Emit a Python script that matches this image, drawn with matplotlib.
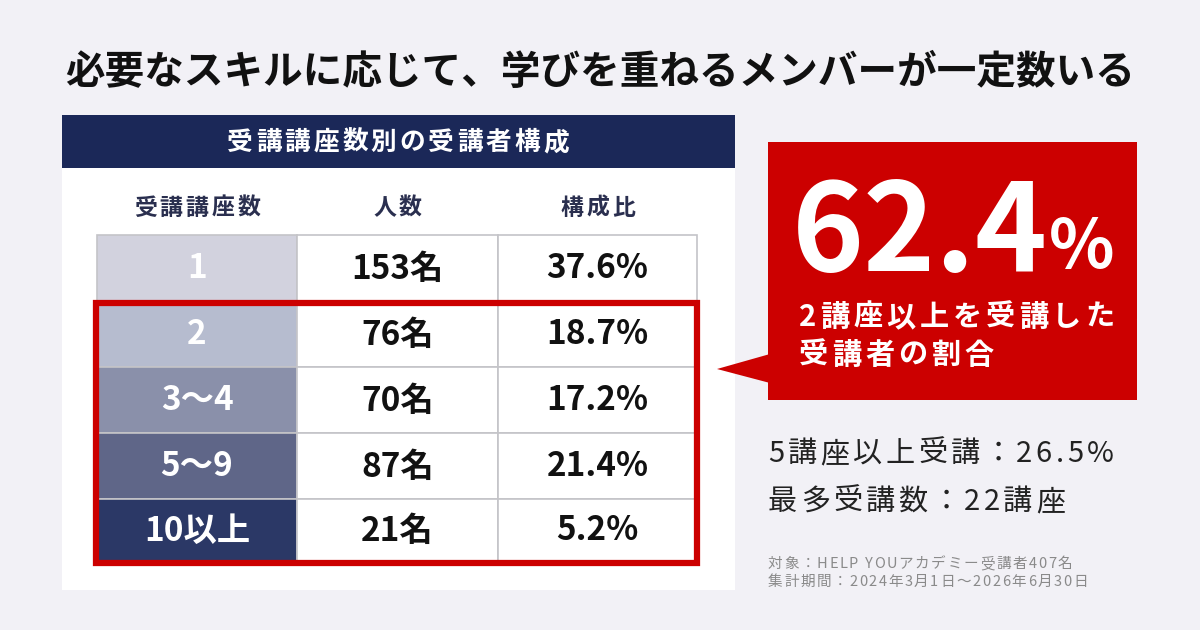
import matplotlib.pyplot as plt
from matplotlib.patches import Rectangle, Polygon

plt.rcParams['font.family'] = ['Noto Sans CJK JP', 'DejaVu Sans']

# data
title = "必要なスキルに応じて、学びを重ねるメンバーが一定数いる"
table_title = "受講講座数別の受講者構成"
col_headers = ["受講講座数", "人数", "構成比"]
course_counts = ["1", "2", "3〜4", "5〜9", "10以上"]
members = [153, 76, 70, 87, 21]
shares = [37.6, 18.7, 17.2, 21.4, 5.2]
highlight_share = 62.4
highlight_label = ["2講座以上を受講した", "受講者の割合"]
notes = ["5講座以上受講：26.5%", "最多受講数：22講座"]
footnotes = ["対象：HELP YOUアカデミー受講者407名",
             "集計期間：2024年3月1日〜2026年6月30日"]

# styles
bg = "#f2f1f6"
navy = "#1b2858"
red = "#cc0000"
grid = "#c4c4c8"
row_colors = ["#d2d2de", "#b6bccf", "#8a90aa", "#5f6688", "#2b3866"]

fig = plt.figure(figsize=(12, 6.3), dpi=100, facecolor=bg)
ax = fig.add_axes([0, 0, 1, 1])
ax.set_xlim(0, 1200)
ax.set_ylim(630, 0)
ax.axis("off")
renderer = fig.canvas.get_renderer()


def spaced(x, y, s, track, center=False, **kw):
    # draw a string char by char with extra letter spacing (pixels)
    widths = []
    for ch in s:
        t = ax.text(0, 0, ch, **kw)
        widths.append(t.get_window_extent(renderer).width)
        t.remove()
    if center:
        x -= (sum(widths) + track * (len(s) - 1)) / 2
    for ch, w in zip(s, widths):
        ax.text(x, y, ch, ha="left", va="baseline", **kw)
        x += w + track
    return x


ax.text(600, 72, title, ha="center", va="center", fontsize=28.5,
        fontweight="bold", color="#111111")

# card + header bar
ax.add_patch(Rectangle((62, 115), 673, 475, facecolor="white", edgecolor="none"))
ax.add_patch(Rectangle((62, 115), 673, 53, facecolor=navy, edgecolor="none"))
spaced(398, 150, table_title, 3, center=True, fontsize=18.5,
       fontweight="bold", color="white")

col_x = [97, 297, 498, 697]
row_y = [235, 301, 367, 433, 499, 561]
for i, h in enumerate(col_headers):
    spaced((col_x[i] + col_x[i + 1]) / 2, 215, h, 3, center=True,
           fontsize=16.5, fontweight="bold", color="#2a2f4f")

for r in range(len(course_counts)):
    y0, y1 = row_y[r], row_y[r + 1]
    ax.add_patch(Rectangle((col_x[0], y0), col_x[1] - col_x[0], y1 - y0,
                           facecolor=row_colors[r], edgecolor=grid, lw=1.2))
    for c in (1, 2):
        ax.add_patch(Rectangle((col_x[c], y0), col_x[c + 1] - col_x[c], y1 - y0,
                               facecolor="white", edgecolor=grid, lw=1.2))
    yc = (y0 + y1) / 2 + 1
    ax.text((col_x[0] + col_x[1]) / 2, yc, course_counts[r], ha="center",
            va="center", fontsize=24, fontweight="bold", color="white")
    ax.text((col_x[1] + col_x[2]) / 2, yc, f"{members[r]}名", ha="center",
            va="center", fontsize=24, fontweight="bold", color="#111111")
    ax.text((col_x[2] + col_x[3]) / 2, yc, f"{shares[r]:.1f}%", ha="center",
            va="center", fontsize=24, fontweight="bold", color="#111111")

# red highlight frame around 2+ rows
ax.add_patch(Rectangle((96, 303), 601, 260, facecolor="none", edgecolor=red,
                       lw=4.5))

# callout
ax.add_patch(Rectangle((768, 142), 369, 258, facecolor=red, edgecolor="none"))
ax.add_patch(Polygon([(717, 369), (770, 354), (770, 383)], closed=True,
                     facecolor=red, edgecolor="none"))
big = ax.text(792, 271, f"{highlight_share:.1f}", ha="left", va="baseline",
              fontsize=88, fontweight="bold", color="white")
bx = big.get_window_extent(renderer).x1
ax.text(bx + 1, 268, "%", ha="left", va="baseline", fontsize=49,
        fontweight="bold", color="white")
spaced(799, 326, highlight_label[0], 4, fontsize=21, fontweight="bold",
       color="white")
spaced(799, 364, highlight_label[1], 4, fontsize=21, fontweight="bold",
       color="white")

spaced(768, 462, notes[0], 3.5, fontsize=21, color="#222222")
spaced(768, 510, notes[1], 3.5, fontsize=21, color="#222222")
spaced(768, 568, footnotes[0], 1.6, fontsize=10.5, color="#8a8a8a")
spaced(768, 586, footnotes[1], 1.6, fontsize=10.5, color="#8a8a8a")

fig.savefig("out.png", dpi=100, facecolor=bg)
